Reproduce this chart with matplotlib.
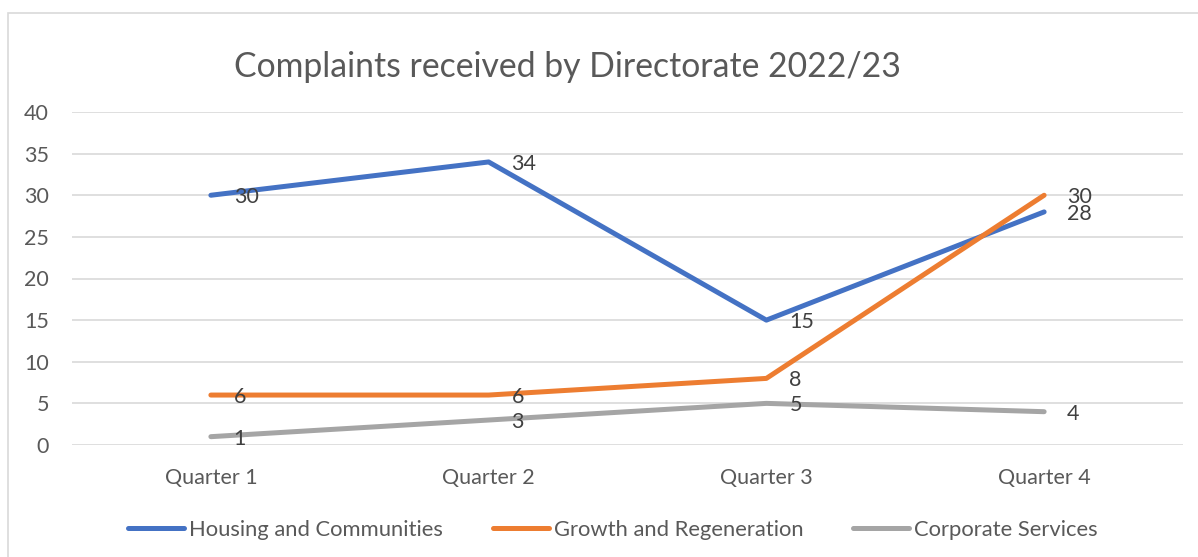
import matplotlib
matplotlib.use("Agg")
import matplotlib.pyplot as plt
from matplotlib.patches import Rectangle

categories = ["Quarter 1", "Quarter 2", "Quarter 3", "Quarter 4"]
series_names = ["Housing and Communities", "Growth and Regeneration", "Corporate Services"]
housing = [30, 34, 15, 28]
growth = [6, 6, 8, 30]
corporate = [1, 3, 5, 4]
colors = ["#4472C4", "#ED7D31", "#A5A5A5"]
yticks = [0, 5, 10, 15, 20, 25, 30, 35, 40]

plt.rcParams['font.family'] = ['Lato', 'DejaVu Sans']
txt = "#595959"

W, H = 1198, 557
fig = plt.figure(figsize=(W/100, H/100), dpi=100)
fig.patches.append(Rectangle((8/W, -0.1), 1.2, (557-13)/H + 0.1, transform=fig.transFigure,
                             fill=False, edgecolor="#D9D9D9", linewidth=1.2))
ax = fig.add_axes([72/W, (H-445)/H, (1183-72)/W, (445-112)/H])

x = list(range(len(categories)))
for vals, name, c in zip([housing, growth, corporate], series_names, colors):
    ax.plot(x, vals, color=c, linewidth=3.6, solid_capstyle="round", solid_joinstyle="round", label=name)
    for xi, v in zip(x, vals):
        ax.annotate(str(v), (xi, v), xytext=(16.5, -1.5), textcoords="offset points",
                    ha="left", va="center", fontsize=15.5, color="#404040")

ax.set_xlim(-0.5, 3.5)
ax.set_ylim(0, 40)
ax.set_yticks(yticks)
ax.set_xticks(x)
ax.set_xticklabels(categories)
ax.tick_params(axis="both", length=0, labelsize=15.5, labelcolor=txt)
ax.tick_params(axis="y", pad=16.5)
ax.tick_params(axis="x", pad=16.5)
ax.grid(axis="y", color="#D9D9D9", linewidth=1.2)
ax.set_axisbelow(True)
for s in ax.spines.values():
    s.set_visible(False)

fig.text(567/W, 1 - 67/H, "Complaints received by Directorate 2022/23", ha="center", va="center",
         fontsize=24.3, color=txt)

leg = fig.legend(loc="center", bbox_to_anchor=(613/W, 1 - 530/H), ncol=3, frameon=False,
                 fontsize=15.8, labelcolor=txt, handlelength=2.55, handletextpad=0.23,
                 columnspacing=2.28)

fig.savefig("out.png", dpi=100)
